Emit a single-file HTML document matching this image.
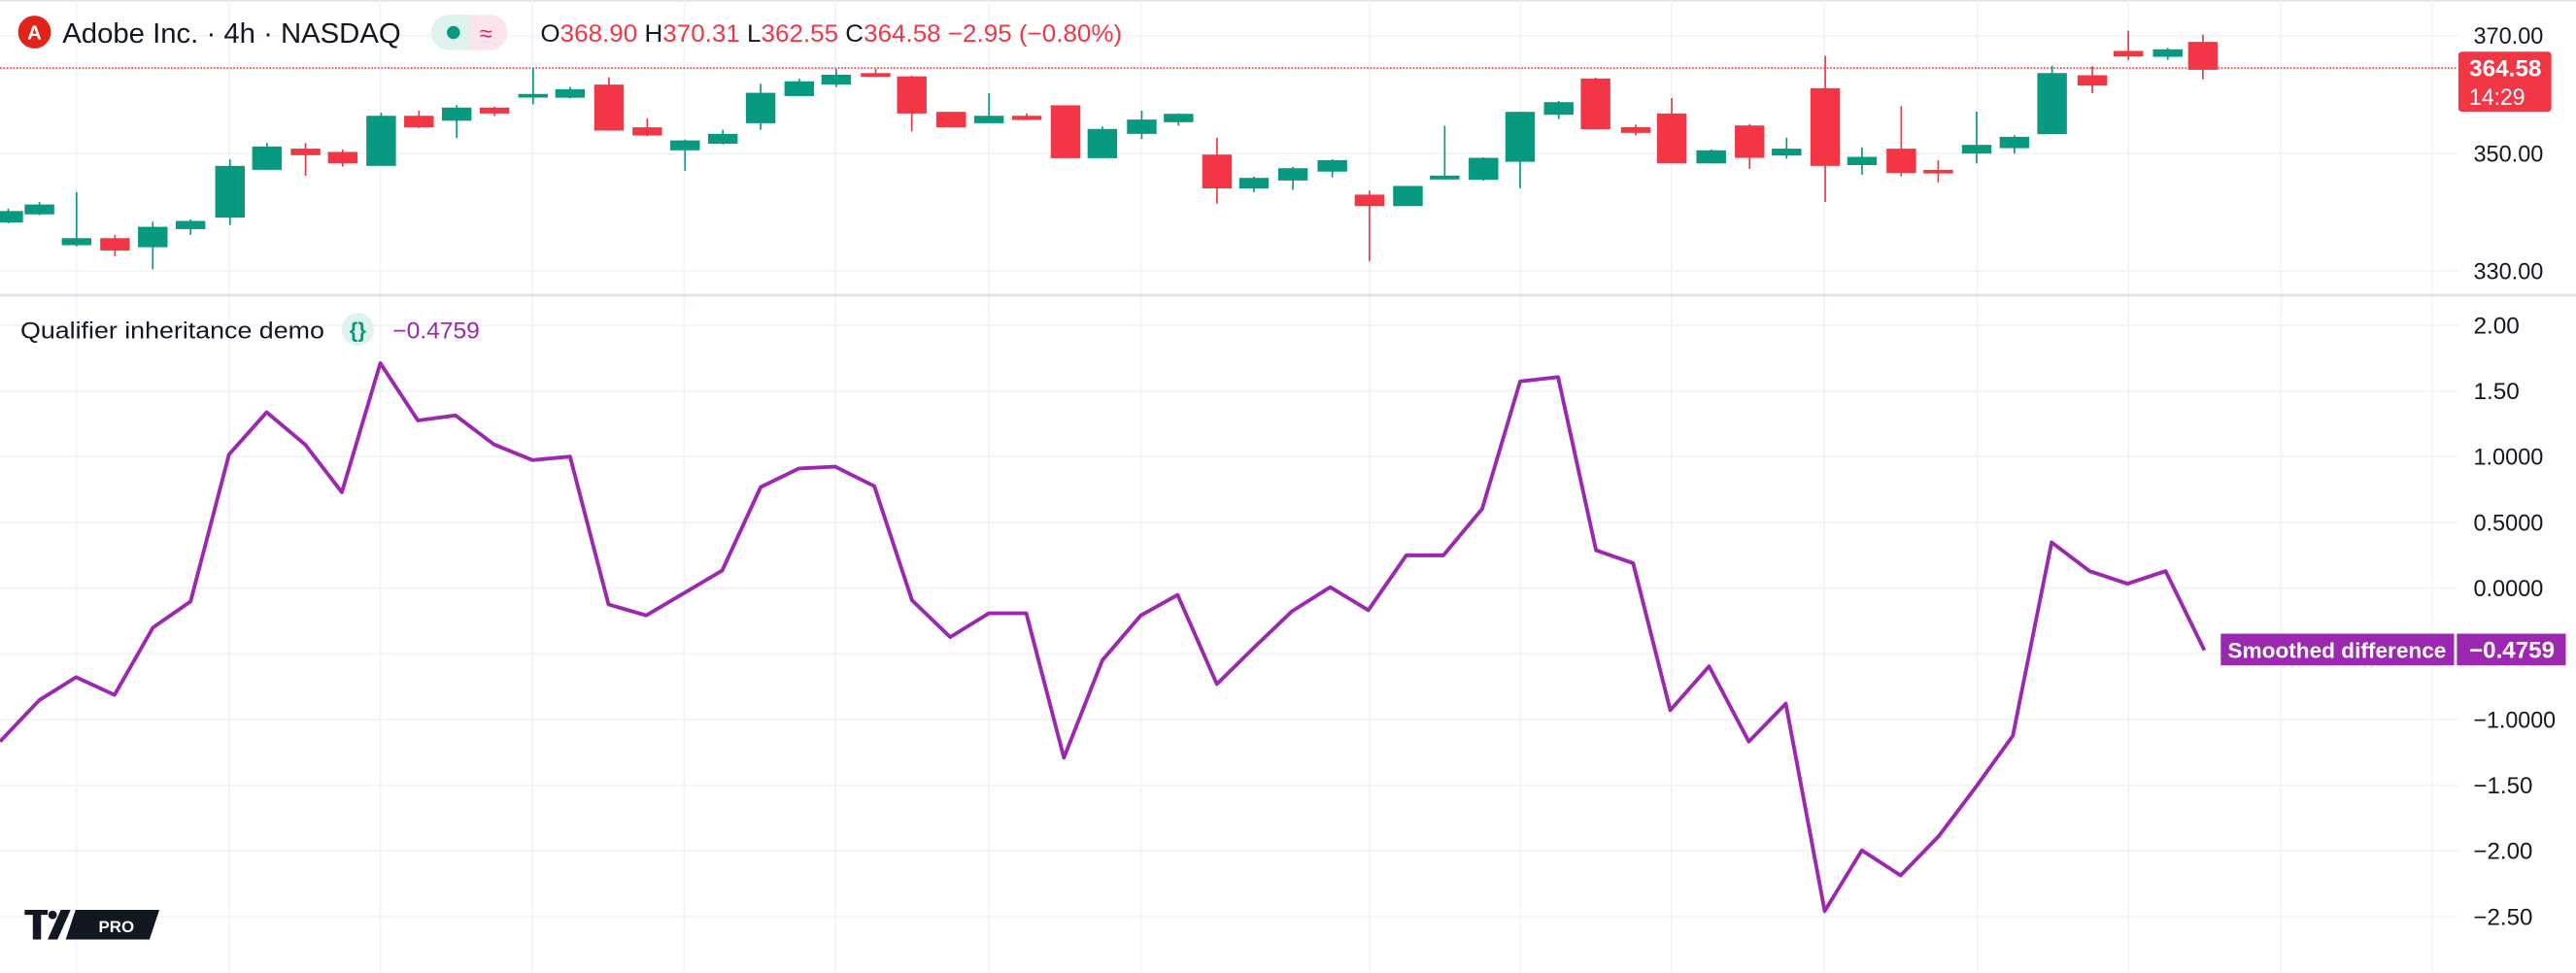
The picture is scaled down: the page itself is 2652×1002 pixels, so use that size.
<!DOCTYPE html>
<html><head><meta charset="utf-8"><style>
html,body{margin:0;padding:0;background:#fff;width:2652px;height:1002px;overflow:hidden}
svg{display:block}
text{font-family:"Liberation Sans",sans-serif}
</style></head><body>
<svg width="2652" height="1002" viewBox="0 0 1568 592.4" preserveAspectRatio="none" xmlns="http://www.w3.org/2000/svg">
<rect width="1568" height="592.4" fill="#fff"/>
<rect x="0" y="0" width="1568" height="1" fill="#e0e3eb"/>
<g stroke="#f0f3fa" stroke-width="1">
<line x1="46.5" y1="0" x2="46.5" y2="592"/><line x1="139.5" y1="0" x2="139.5" y2="592"/><line x1="231.5" y1="0" x2="231.5" y2="592"/><line x1="324" y1="0" x2="324" y2="592"/><line x1="416.5" y1="0" x2="416.5" y2="592"/><line x1="508.5" y1="0" x2="508.5" y2="592"/><line x1="602" y1="0" x2="602" y2="592"/><line x1="694.5" y1="0" x2="694.5" y2="592"/><line x1="833.5" y1="0" x2="833.5" y2="592"/><line x1="925.5" y1="0" x2="925.5" y2="592"/><line x1="1017.5" y1="0" x2="1017.5" y2="592"/><line x1="1110.5" y1="0" x2="1110.5" y2="592"/><line x1="1203.5" y1="0" x2="1203.5" y2="592"/><line x1="1295.5" y1="0" x2="1295.5" y2="592"/><line x1="1388.5" y1="0" x2="1388.5" y2="592"/><line x1="1480.5" y1="0" x2="1480.5" y2="592"/>
</g>
<g stroke="#f0f3fa" stroke-width="1">
<line x1="0" y1="21.7" x2="1496" y2="21.7"/><line x1="0" y1="93.6" x2="1496" y2="93.6"/><line x1="0" y1="165" x2="1496" y2="165"/>
<line x1="0" y1="198.1" x2="1496" y2="198.1"/><line x1="0" y1="238.1" x2="1496" y2="238.1"/><line x1="0" y1="278" x2="1496" y2="278"/><line x1="0" y1="318" x2="1496" y2="318"/><line x1="0" y1="358" x2="1496" y2="358"/><line x1="0" y1="398" x2="1496" y2="398"/><line x1="0" y1="438" x2="1496" y2="438"/><line x1="0" y1="478" x2="1496" y2="478"/><line x1="0" y1="518" x2="1496" y2="518"/><line x1="0" y1="558" x2="1496" y2="558"/>
</g>
<rect x="0" y="178.9" width="1568" height="1.6" fill="#e0e3eb"/>
<line x1="0" y1="41.4" x2="1496" y2="41.4" stroke="#f7525f" stroke-width="1.1" stroke-dasharray="1,1"/>
<g stroke-width="1">
<g fill="#089981" stroke="#089981">
<line x1="5" y1="127" x2="5" y2="136"/><rect x="-3.5" y="129" width="17" height="6"/>
<line x1="24" y1="123" x2="24" y2="131"/><rect x="15.5" y="125" width="17" height="5"/>
<line x1="46.6" y1="117" x2="46.6" y2="150"/><rect x="38.1" y="145.5" width="17" height="3.3"/>
<line x1="93" y1="135" x2="93" y2="164"/><rect x="84.5" y="138.6" width="17" height="11.4"/>
<line x1="116" y1="133.6" x2="116" y2="143"/><rect x="107.5" y="135" width="17" height="4"/>
<line x1="140" y1="97" x2="140" y2="137"/><rect x="131.5" y="101.5" width="17" height="30.5"/>
<line x1="162.5" y1="87" x2="162.5" y2="103.5"/><rect x="154" y="89.7" width="17" height="13.2"/>
<line x1="232" y1="68.6" x2="232" y2="100.5"/><rect x="223.5" y="71" width="17" height="29.5"/>
<line x1="278" y1="64" x2="278" y2="84"/><rect x="269.5" y="66" width="17" height="7"/>
<line x1="324.5" y1="41.4" x2="324.5" y2="63.5"/><rect x="316" y="57.7" width="17" height="1.2"/>
<line x1="347" y1="53" x2="347" y2="60"/><rect x="338.5" y="54.8" width="17" height="4.2"/>
<line x1="417" y1="85" x2="417" y2="104"/><rect x="408.5" y="86" width="17" height="5"/>
<line x1="440" y1="79" x2="440" y2="88"/><rect x="431.5" y="82" width="17" height="5"/>
<line x1="463" y1="51" x2="463" y2="79"/><rect x="454.5" y="57" width="17" height="17.5"/>
<line x1="486.5" y1="48" x2="486.5" y2="58"/><rect x="478" y="50" width="17" height="8"/>
<line x1="509" y1="42" x2="509" y2="53"/><rect x="500.5" y="46" width="17" height="5"/>
<line x1="602" y1="56.8" x2="602" y2="74.5"/><rect x="593.5" y="71" width="17" height="3.5"/>
<line x1="671" y1="77" x2="671" y2="95.8"/><rect x="662.5" y="79" width="17" height="16.8"/>
<line x1="695" y1="67.4" x2="695" y2="84.7"/><rect x="686.5" y="73.3" width="17" height="7.7"/>
<line x1="717.4" y1="69" x2="717.4" y2="76.5"/><rect x="708.9" y="69.8" width="17" height="4.1"/>
<line x1="763.3" y1="107.6" x2="763.3" y2="117"/><rect x="754.8" y="108.8" width="17" height="5.5"/>
<line x1="787" y1="101.6" x2="787" y2="115.6"/><rect x="778.5" y="102.9" width="17" height="6.5"/>
<line x1="811" y1="97" x2="811" y2="108"/><rect x="802.5" y="98" width="17" height="6"/>
<rect x="848.5" y="113.7" width="17" height="11.3"/>
<line x1="879.4" y1="76.5" x2="879.4" y2="108.8"/><rect x="870.9" y="107.4" width="17" height="1.4"/>
<line x1="903" y1="95.8" x2="903" y2="110"/><rect x="894.5" y="96.6" width="17" height="12.4"/>
<line x1="925.3" y1="68" x2="925.3" y2="114.7"/><rect x="916.8" y="68.6" width="17" height="29.4"/>
<line x1="948.8" y1="61.5" x2="948.8" y2="72.5"/><rect x="940.3" y="62.7" width="17" height="6.7"/>
<line x1="1041.6" y1="91" x2="1041.6" y2="99.5"/><rect x="1033.1" y="92" width="17" height="7"/>
<line x1="1087.5" y1="83.8" x2="1087.5" y2="96.6"/><rect x="1079" y="91" width="17" height="3.2"/>
<line x1="1133.4" y1="89.7" x2="1133.4" y2="106.4"/><rect x="1124.9" y="96" width="17" height="4"/>
<line x1="1203.2" y1="68" x2="1203.2" y2="99.5"/><rect x="1194.7" y="88.7" width="17" height="4.3"/>
<line x1="1226.2" y1="82.4" x2="1226.2" y2="93.6"/><rect x="1217.7" y="83.8" width="17" height="5.9"/>
<line x1="1249.1" y1="40" x2="1249.1" y2="81.2"/><rect x="1240.6" y="45" width="17" height="36.2"/>
<line x1="1319.5" y1="29.2" x2="1319.5" y2="36.5"/><rect x="1311" y="30.5" width="17" height="3.6"/>
</g>
<g fill="#f23645" stroke="#f23645">
<line x1="70" y1="143" x2="70" y2="156"/><rect x="61.5" y="145.5" width="17" height="6.5"/>
<line x1="186" y1="87" x2="186" y2="107"/><rect x="177.5" y="91" width="17" height="3"/>
<line x1="208.6" y1="91" x2="208.6" y2="101.5"/><rect x="200.1" y="93" width="17" height="6"/>
<line x1="255" y1="67.4" x2="255" y2="77.9"/><rect x="246.5" y="71" width="17" height="6"/>
<line x1="301" y1="65" x2="301" y2="70.6"/><rect x="292.5" y="66" width="17" height="2.6"/>
<line x1="370.7" y1="47" x2="370.7" y2="79"/><rect x="362.2" y="52" width="17" height="27"/>
<line x1="394" y1="72" x2="394" y2="83"/><rect x="385.5" y="78" width="17" height="4"/>
<line x1="533" y1="42" x2="533" y2="47"/><rect x="524.5" y="45" width="17" height="1.3"/>
<line x1="555" y1="46" x2="555" y2="80"/><rect x="546.5" y="47" width="17" height="21.6"/>
<rect x="570.5" y="68.6" width="17" height="8.4"/>
<line x1="625" y1="69" x2="625" y2="73"/><rect x="616.5" y="71" width="17" height="1.5"/>
<rect x="640.1" y="64.6" width="17" height="31.2"/>
<line x1="740.8" y1="83.8" x2="740.8" y2="124"/><rect x="732.3" y="94.6" width="17" height="19.6"/>
<line x1="833.6" y1="116" x2="833.6" y2="159"/><rect x="825.1" y="119" width="17" height="6"/>
<line x1="971.2" y1="47.3" x2="971.2" y2="78.8"/><rect x="962.7" y="48.3" width="17" height="29.9"/>
<line x1="995.7" y1="75.9" x2="995.7" y2="82.4"/><rect x="987.2" y="77.9" width="17" height="2.5"/>
<line x1="1017.6" y1="59.7" x2="1017.6" y2="99"/><rect x="1009.1" y="69.6" width="17" height="29.4"/>
<line x1="1065" y1="75.5" x2="1065" y2="102.9"/><rect x="1056.5" y="76.9" width="17" height="18.7"/>
<line x1="1111" y1="33.9" x2="1111" y2="123"/><rect x="1102.5" y="54.2" width="17" height="46.3"/>
<line x1="1157.3" y1="64.6" x2="1157.3" y2="107.4"/><rect x="1148.8" y="91" width="17" height="13.9"/>
<line x1="1179.8" y1="97.6" x2="1179.8" y2="111"/><rect x="1171.3" y="103.9" width="17" height="1.2"/>
<line x1="1273.6" y1="40.4" x2="1273.6" y2="56.8"/><rect x="1265.1" y="46.3" width="17" height="5.3"/>
<line x1="1295.5" y1="18.7" x2="1295.5" y2="36.5"/><rect x="1287" y="31.5" width="17" height="2.4"/>
<line x1="1340.9" y1="21" x2="1340.9" y2="48.3"/><rect x="1332.4" y="26" width="17" height="16"/>
</g>
</g>
<polyline fill="none" stroke="#9c27b0" stroke-width="2.3" stroke-linejoin="round" points="0,451.5 23.9,426.3 46.3,412.3 69.7,423.1 93.1,382.1 116,366.2 139.4,276.7 162.3,251 185.7,270.6 208.1,299.7 231.5,221.1 254.4,256 277.3,252.9 300.7,270.6 324.1,280.1 347,278 370.4,368 393.3,374.7 416.7,360.9 439.6,347.4 463,296.6 486.4,285.2 508.3,284.1 532.2,296 555.1,365.4 578.4,387.9 601.9,373.4 624.7,373.4 647.6,461.3 671,402 694.4,374.7 716.8,362.2 740.7,416.5 763.6,394 786.6,372 809.7,357.5 832.9,371.5 856,338.1 878.6,338.1 902.2,309.8 925.3,232.2 948.4,229.6 971.5,335 994.1,342.9 1016.7,432.4 1040.3,405.7 1064.5,451.5 1087,428.4 1110.7,554.7 1133.3,517.7 1156.9,533 1180,509.2 1202.6,479.3 1225.2,448 1248.8,330.2 1271.9,347.7 1295,355.4 1318.2,347.7 1341.8,395.9"/>
<circle cx="21" cy="19.5" r="10" fill="#e2231a"/>
<text x="21" y="24" font-size="12" font-weight="bold" fill="#fff" text-anchor="middle">A</text>
<text x="38" y="26" font-size="17" fill="#131722" textLength="206" lengthAdjust="spacingAndGlyphs">Adobe Inc. · 4h · NASDAQ</text>
<rect x="262.5" y="9" width="46.5" height="21.5" rx="10.7" fill="#fce4ec"/>
<path d="M273.2,9 h12.5 v21.5 h-12.5 a10.7,10.7 0 0 1 0,-21.5z" fill="#dff3ee"/>
<circle cx="276" cy="19.8" r="4" fill="#089981"/>
<text x="292" y="25" font-size="14" fill="#e91e63">≈</text>
<text x="329" y="25.5" font-size="15" textLength="354" lengthAdjust="spacingAndGlyphs"><tspan fill="#131722">O</tspan><tspan fill="#f23645">368.90 </tspan><tspan fill="#131722">H</tspan><tspan fill="#f23645">370.31 </tspan><tspan fill="#131722">L</tspan><tspan fill="#f23645">362.55 </tspan><tspan fill="#131722">C</tspan><tspan fill="#f23645">364.58 −2.95 (−0.80%)</tspan></text>
<text x="12.4" y="206" font-size="14" fill="#131722" textLength="185" lengthAdjust="spacingAndGlyphs">Qualifier inheritance demo</text>
<ellipse cx="217.8" cy="200.5" rx="9.8" ry="10" fill="#dff3ee"/>
<text x="217.8" y="205.5" font-size="13" font-weight="bold" fill="#089981" text-anchor="middle">{}</text>
<text x="239" y="206" font-size="14" fill="#9c27b0" textLength="53" lengthAdjust="spacingAndGlyphs">−0.4759</text>
<g font-size="14" fill="#131722">
<text x="1505.6" y="26.5" textLength="42.5" lengthAdjust="spacingAndGlyphs">370.00</text>
<text x="1505.6" y="98.5" textLength="42.5" lengthAdjust="spacingAndGlyphs">350.00</text>
<text x="1505.6" y="170" textLength="42.5" lengthAdjust="spacingAndGlyphs">330.00</text>
<text x="1505.6" y="203" textLength="28" lengthAdjust="spacingAndGlyphs">2.00</text>
<text x="1505.6" y="243" textLength="28" lengthAdjust="spacingAndGlyphs">1.50</text>
<text x="1505.6" y="283" textLength="42.5" lengthAdjust="spacingAndGlyphs">1.0000</text>
<text x="1505.6" y="323" textLength="42.5" lengthAdjust="spacingAndGlyphs">0.5000</text>
<text x="1505.6" y="363" textLength="42.5" lengthAdjust="spacingAndGlyphs">0.0000</text>
<text x="1505.6" y="443" textLength="50" lengthAdjust="spacingAndGlyphs">−1.0000</text>
<text x="1505.6" y="483" textLength="36" lengthAdjust="spacingAndGlyphs">−1.50</text>
<text x="1505.6" y="523" textLength="36" lengthAdjust="spacingAndGlyphs">−2.00</text>
<text x="1505.6" y="563" textLength="36" lengthAdjust="spacingAndGlyphs">−2.50</text>
</g>
<rect x="1496.4" y="31.5" width="56.6" height="36.5" rx="2" fill="#f23645"/>
<text x="1503" y="46.5" font-size="14" font-weight="bold" fill="#fff" textLength="44" lengthAdjust="spacingAndGlyphs">364.58</text>
<text x="1503" y="64" font-size="14" fill="#fff" textLength="34" lengthAdjust="spacingAndGlyphs">14:29</text>
<rect x="1351.8" y="385.8" width="142" height="19.3" fill="#9c27b0"/>
<text x="1356" y="400.5" font-size="13" font-weight="bold" fill="#fff" textLength="133" lengthAdjust="spacingAndGlyphs">Smoothed difference</text>
<rect x="1495.5" y="385.8" width="66.3" height="19.3" fill="#9c27b0"/>
<text x="1503" y="400.5" font-size="14" font-weight="bold" fill="#fff" textLength="52" lengthAdjust="spacingAndGlyphs">−0.4759</text>
<path d="M15,554 h14 v3 h-4 v15 h-5 v-15 h-5z" fill="#131722"/>
<circle cx="32" cy="557" r="2.6" fill="#131722"/>
<path d="M37,554 h6 l-8,18 h-6z" fill="#131722"/>
<path d="M46,554 h51 l-6,18 h-51z" fill="#131722"/>
<text x="60" y="567.5" font-size="10" font-weight="bold" fill="#fff">PRO</text>
</svg>
</body></html>
